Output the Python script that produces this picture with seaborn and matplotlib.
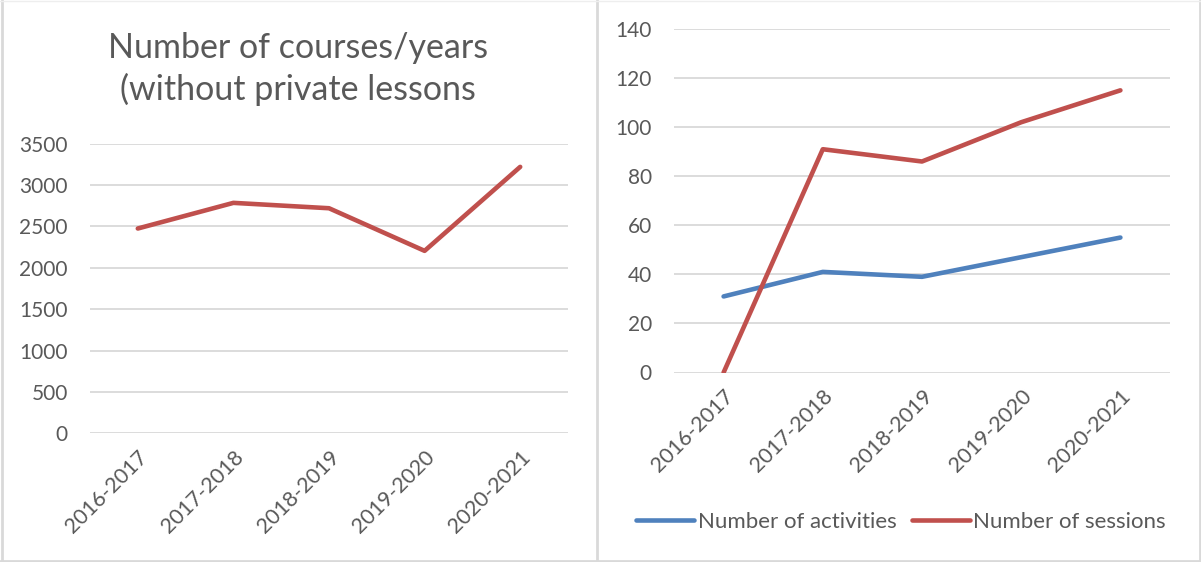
import matplotlib
matplotlib.use("Agg")
import matplotlib.pyplot as plt
import seaborn as sns
import pandas as pd
from matplotlib.lines import Line2D

years = ["2016-2017", "2017-2018", "2018-2019", "2019-2020", "2020-2021"]
courses = [2475, 2785, 2720, 2205, 3220]
activities = [31, 41, 39, 47, 55]
sessions = [0, 91, 86, 102, 115]

left_title = "Number of courses/years\n(without private lessons"
series_names = ["Number of activities", "Number of sessions"]

sns.set_theme(style="white")
plt.rcParams['font.family'] = ['Lato', 'DejaVu Sans']

RED = "#C0504D"
BLUE = "#4F81BD"
TXT = "#595959"
GRID = "#D9D9D9"

fig = plt.figure(figsize=(12.01, 5.62), dpi=100)
W, H = 1201, 562

def axes_px(x0, x1, ytop, ybot):
    return fig.add_axes([x0 / W, 1 - ybot / H, (x1 - x0) / W, (ybot - ytop) / H])

ax1 = axes_px(90, 568, 143.7, 433.3)
ax2 = axes_px(674, 1170, 29, 372.5)

df1 = pd.DataFrame({"year": years, "value": courses, "x": range(len(years))})
sns.lineplot(data=df1, x="x", y="value", ax=ax1, color=RED, lw=3.3, sort=False,
             solid_capstyle="round", solid_joinstyle="round")

df2 = pd.DataFrame({
    "x": list(range(len(years))) * 2,
    "value": activities + sessions,
    "series": [series_names[0]] * len(years) + [series_names[1]] * len(years),
})
sns.lineplot(data=df2, x="x", y="value", hue="series", ax=ax2,
             palette={series_names[0]: BLUE, series_names[1]: RED}, lw=3.3, sort=False,
             legend=False, solid_capstyle="round", solid_joinstyle="round")

for ax, ylim, step in [(ax1, 3500, 500), (ax2, 140, 20)]:
    ax.set_xlim(-0.5, len(years) - 0.5)
    ax.set_ylim(0, ylim)
    ax.set_yticks(range(0, ylim + 1, step))
    ax.set_xticks(range(len(years)))
    ax.set_xticklabels(years, rotation=45, ha="right", va="top", rotation_mode="anchor",
                       fontsize=15.5)
    ax.yaxis.grid(True, color=GRID, lw=1.3)
    ax.set_axisbelow(True)
    for s in ax.spines.values():
        s.set_visible(False)
    ax.tick_params(axis="both", length=0, labelcolor=TXT)
    ax.tick_params(axis="y", pad=16, labelsize=15)
    ax.tick_params(axis="x", pad=10)
    ax.set_xlabel("")
    ax.set_ylabel("")
    ax.patch.set_alpha(0)

fig.text(298 / W, 1 - 69 / H, left_title, ha="center", va="center", fontsize=24.5,
         color=TXT, linespacing=1.3)

handles = [Line2D([], [], color=BLUE, lw=3.3, solid_capstyle="round"),
           Line2D([], [], color=RED, lw=3.3, solid_capstyle="round")]
leg = fig.legend(handles, series_names, loc="center", bbox_to_anchor=(901 / W, 1 - 522 / H),
                 ncol=2, frameon=False, fontsize=16, handlelength=2.6, handletextpad=0.15,
                 columnspacing=0.7, labelcolor=TXT)

# panel borders
border = dict(color=GRID, lw=2, transform=fig.transFigure)
fig.add_artist(Line2D([1.5 / W, 1.5 / W], [0, 1], **border))
fig.add_artist(Line2D([597 / W, 597 / W], [0, 1], **border))
fig.add_artist(Line2D([1199.5 / W, 1199.5 / W], [0, 1], **border))
fig.add_artist(Line2D([0, 1], [1 - 560.5 / H, 1 - 560.5 / H], **border))
fig.add_artist(Line2D([0, 1], [1 - 0.5 / H, 1 - 0.5 / H], color="#EEEEEE", lw=1, transform=fig.transFigure))

fig.savefig("out.png", dpi=100, facecolor="white")
